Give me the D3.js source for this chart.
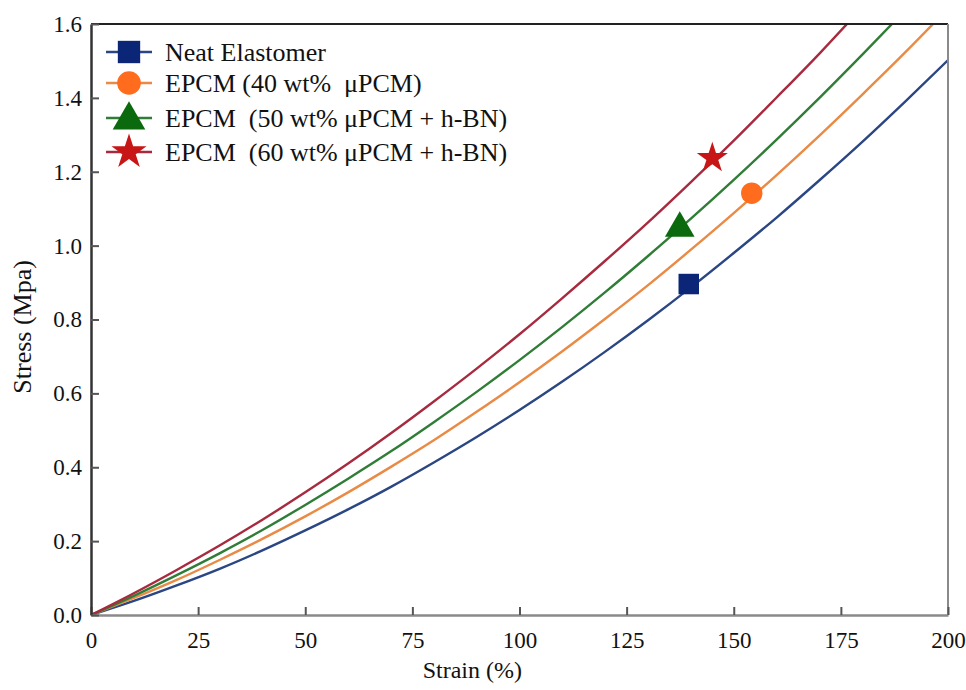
<!DOCTYPE html>
<html lang="en">
<head>
    <meta charset="UTF-8">
    <title>Stress vs Strain</title>
    <script src="https://d3js.org/d3.v7.min.js"></script>
    <style>
        body {
            margin: 0;
            background-color: #fff;
        }
        svg text {
            font-family: "Liberation Serif", "Times New Roman", serif;
            fill: #111;
        }
    </style>
</head>
<body>
    <svg id="chart" width="966" height="690"></svg>
    <script>
// strain (%) sampled every 10 units
const strain = [0, 10, 20, 30, 40, 50, 60, 70, 80, 90, 100, 110, 120, 130, 140, 150, 160, 170, 180, 190, 200];

// stress (MPa) for each material
const neatStress = [0, 0.038, 0.080, 0.125, 0.175, 0.229, 0.286, 0.347, 0.413, 0.482, 0.555, 0.632, 0.713, 0.798, 0.887, 0.980, 1.076, 1.177, 1.281, 1.390, 1.502];
const epcm40Stress = [0, 0.046, 0.095, 0.149, 0.206, 0.267, 0.332, 0.401, 0.473, 0.550, 0.630, 0.714, 0.802, 0.893, 0.989, 1.088, 1.191, 1.298, 1.409, 1.523, 1.642];
const epcm50Stress = [0, 0.052, 0.108, 0.167, 0.230, 0.298, 0.369, 0.443, 0.522, 0.604, 0.690, 0.780, 0.874, 0.972, 1.073, 1.178, 1.287, 1.400, 1.517, 1.637, 1.760];
const epcm60Stress = [0, 0.059, 0.122, 0.188, 0.258, 0.332, 0.410, 0.492, 0.578, 0.667, 0.760, 0.858, 0.959, 1.063, 1.172, 1.284, 1.401, 1.520, 1.645, 1.770, 1.900];

// break points (strain, stress) marked by a symbol
const breakPoints = [
    [139.5, 0.896],
    [154.2, 1.142],
    [137.4, 1.047],
    [145.0, 1.237]
];

const seriesNames = [
    "Neat Elastomer",
    "EPCM (40 wt%  \u03bcPCM)",
    "EPCM  (50 wt% \u03bcPCM + h-BN)",
    "EPCM  (60 wt% \u03bcPCM + h-BN)"
];

const xTicks = [0, 25, 50, 75, 100, 125, 150, 175, 200];
const yTicks = [0, 0.2, 0.4, 0.6, 0.8, 1.0, 1.2, 1.4, 1.6];

const lineColors = ["#2a4683", "#e98a45", "#2f7d36", "#a72a3e"];
const markerColors = ["#0b2577", "#ff6c1e", "#0b6a0d", "#c81515"];
const symbols = [d3.symbolSquare, d3.symbolCircle, d3.symbolTriangle, d3.symbolStar];
const markerSizes = [420, 360, 380, 300];

const allStress = [neatStress, epcm40Stress, epcm50Stress, epcm60Stress];

const margin = {top: 24, right: 18, bottom: 75, left: 91};
const width = 966 - margin.left - margin.right;
const height = 690 - margin.top - margin.bottom;

const svg = d3.select("#chart");
const g = svg.append("g").attr("transform", `translate(${margin.left},${margin.top})`);

const x = d3.scaleLinear().domain([0, 200]).range([0, width]);
const y = d3.scaleLinear().domain([0, 1.6]).range([height, 0]);

// clip curves to the plot box
svg.append("defs").append("clipPath").attr("id", "plot-clip")
    .append("rect").attr("width", width).attr("height", height);

const line = d3.line()
    .x(d => x(d[0]))
    .y(d => y(d[1]))
    .curve(d3.curveMonotoneX);

const curves = g.append("g").attr("clip-path", "url(#plot-clip)");
allStress.forEach((vals, i) => {
    curves.append("path")
        .datum(strain.map((s, j) => [s, vals[j]]))
        .attr("fill", "none")
        .attr("stroke", lineColors[i])
        .attr("stroke-width", 2.4)
        .attr("d", line);
});

// frame
g.append("line").attr("x1", 0).attr("x2", width).attr("y1", 0).attr("y2", 0)
    .attr("stroke", "#222").attr("stroke-width", 2);
g.append("line").attr("x1", width).attr("x2", width).attr("y1", 0).attr("y2", height)
    .attr("stroke", "#8a8a8a").attr("stroke-width", 2);

// axes with inward ticks
const xAxis = g.append("g")
    .attr("transform", `translate(0,${height})`)
    .call(d3.axisBottom(x).tickValues(xTicks).tickSizeInner(-8).tickSizeOuter(0).tickPadding(17).tickFormat(d3.format("d")));
xAxis.select(".domain").attr("stroke", "#8a8a8a").attr("stroke-width", 2.5);
xAxis.selectAll(".tick line").attr("stroke", "#555").attr("stroke-width", 2);
xAxis.selectAll("text").style("font-size", "23px").attr("fill", "#111");

const yAxis = g.append("g")
    .call(d3.axisLeft(y).tickValues(yTicks).tickSizeInner(-8).tickSizeOuter(0).tickPadding(9).tickFormat(d3.format(".1f")));
yAxis.select(".domain").attr("stroke", "#333").attr("stroke-width", 2.5);
yAxis.selectAll(".tick line").attr("stroke", "#555").attr("stroke-width", 2);
yAxis.selectAll("text").style("font-size", "23px").attr("fill", "#111");

// axis titles
g.append("text")
    .attr("x", x(89))
    .attr("y", height + 63)
    .attr("text-anchor", "middle")
    .style("font-size", "24px")
    .text("Strain (%)");

g.append("text")
    .attr("transform", `translate(${-60},${y(0.78)}) rotate(-90)`)
    .attr("text-anchor", "middle")
    .style("font-size", "26px")
    .text("Stress (Mpa)");

// break point markers
breakPoints.forEach((p, i) => {
    g.append("path")
        .attr("d", d3.symbol().type(symbols[i]).size(markerSizes[i]))
        .attr("transform", `translate(${x(p[0])},${y(p[1])})`)
        .attr("fill", markerColors[i]);
});

// legend
const legend = g.append("g").attr("transform", "translate(15,28)");
const rowY = [0, 31, 66, 100];
seriesNames.forEach((name, i) => {
    const row = legend.append("g").attr("transform", `translate(0,${rowY[i]})`);
    row.append("line")
        .attr("x1", 0).attr("x2", 46)
        .attr("stroke", lineColors[i]).attr("stroke-width", 2.5);
    row.append("path")
        .attr("d", d3.symbol().type(symbols[i]).size(markerSizes[i] + 80))
        .attr("transform", `translate(23,${i === 2 ? 2 : 0})`)
        .attr("fill", markerColors[i]);
    row.append("text")
        .attr("x", 59)
        .attr("dy", "0.35em")
        .style("font-size", "26px")
        .style("white-space", "pre")
        .text(name);
});
    </script>
</body>
</html>
